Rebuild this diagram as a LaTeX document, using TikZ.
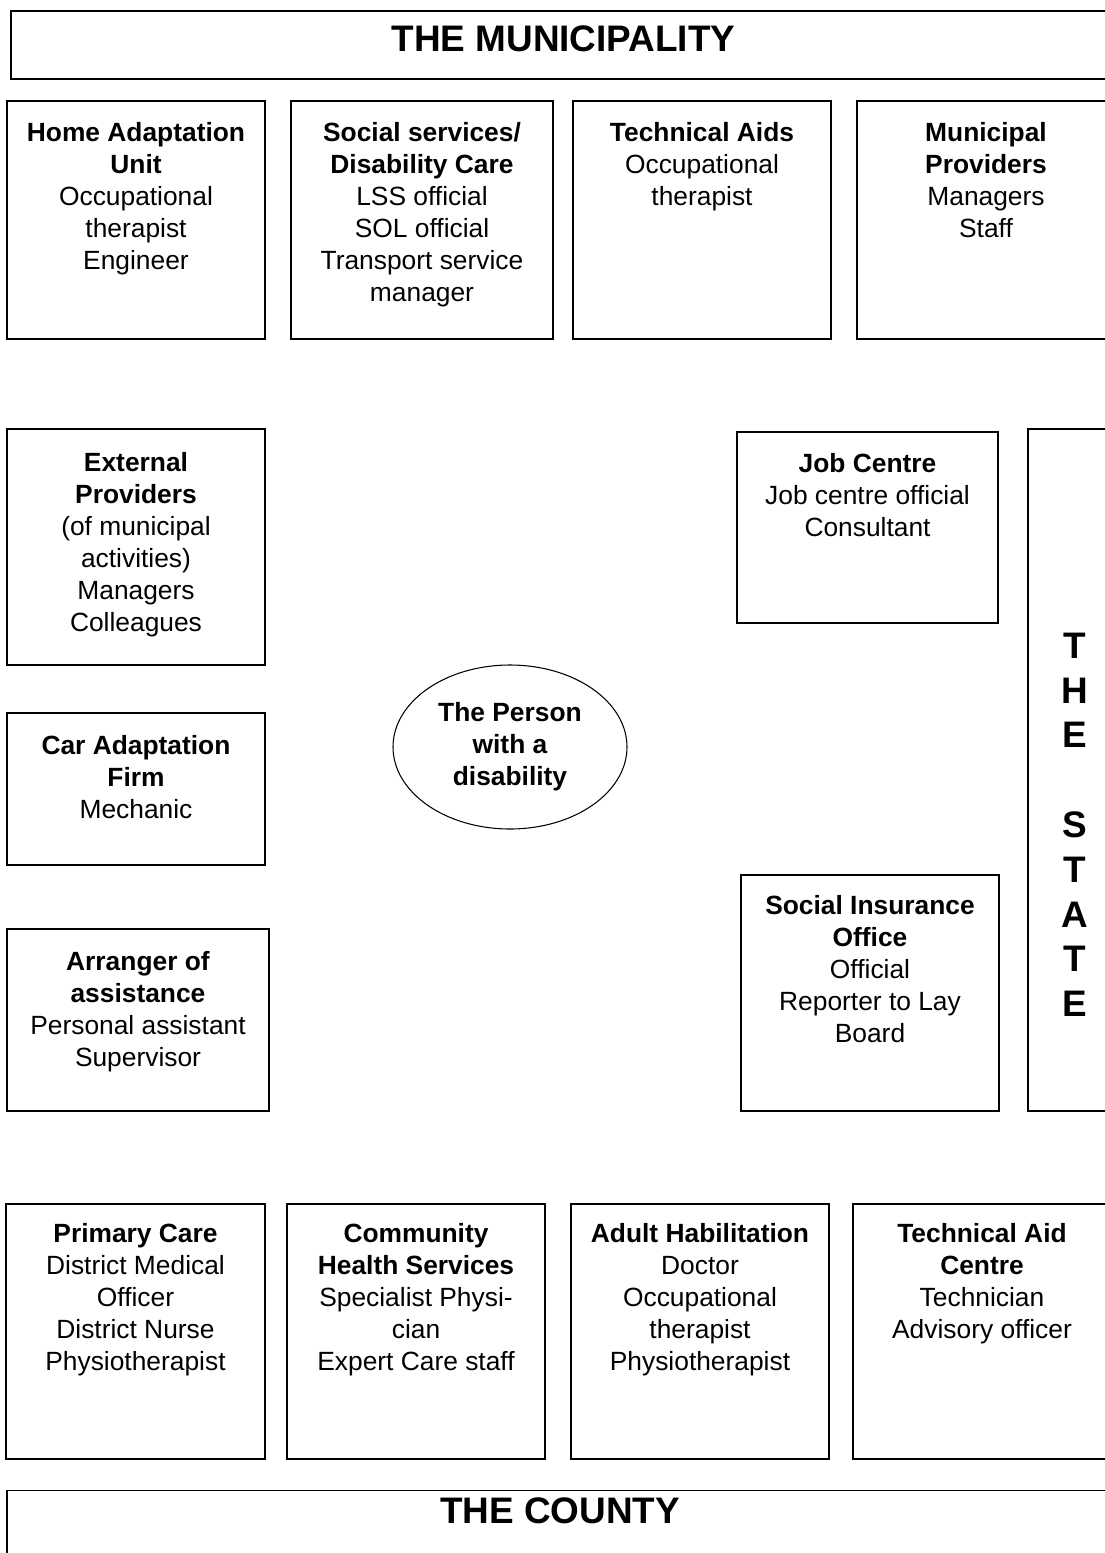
\documentclass[tikz,border=0pt]{standalone}
\usepackage{fontspec}
\setmainfont{Liberation Sans}
\usetikzlibrary{positioning,shapes.geometric}

\begin{document}
\begin{tikzpicture}
  [font=\fontsize{15}{18.2}\selectfont,
   unit/.style={draw,line width=0.6pt,rectangle,inner sep=0pt},
   person/.style={draw,line width=0.6pt,ellipse,inner sep=0pt,minimum width=4.68cm,minimum height=3.28cm,align=center,font=\fontsize{15}{18.2}\selectfont\bfseries},
   staff/.style={anchor=north,inner sep=0pt,align=center},
   level/.style={inner sep=0pt,align=center,font=\fontsize{21}{25.5}\selectfont\bfseries}]

  \useasboundingbox (0,0) rectangle (22.08,-31.06);

  % the municipality
  \node[unit,minimum width=22.10cm,minimum height=1.36cm] (muni) at (11.27,-0.90) {};
  \node[level] (muni_t) at (11.27,-0.78) {THE MUNICIPALITY};

  \node[unit,minimum width=5.16cm,minimum height=4.76cm] (hau) at (2.72,-4.40) {};
  \node[unit,minimum width=5.24cm,minimum height=4.76cm] (soc) at (8.44,-4.40) {};
  \node[unit,minimum width=5.16cm,minimum height=4.76cm] (tai) at (14.04,-4.40) {};
  \node[unit,minimum width=5.16cm,minimum height=4.76cm] (mpr) at (19.72,-4.40) {};
  \node[staff,below=0.43cm of hau.north] (hau_t) {\textbf{Home Adaptation}\\\textbf{Unit}\\Occupational\\therapist\\Engineer};
  \node[staff,below=0.43cm of soc.north] (soc_t) {\textbf{Social services/}\\\textbf{Disability Care}\\LSS official\\SOL official\\Transport service\\manager};
  \node[staff,below=0.43cm of tai.north] (tai_t) {\textbf{Technical Aids}\\Occupational\\therapist};
  \node[staff,below=0.43cm of mpr.north] (mpr_t) {\textbf{Municipal}\\\textbf{Providers}\\Managers\\Staff};

  % left column
  \node[unit,minimum width=5.16cm,minimum height=4.72cm] (ext) at (2.72,-10.94) {};
  \node[unit,minimum width=5.16cm,minimum height=3.04cm] (car) at (2.72,-15.78) {};
  \node[unit,minimum width=5.24cm,minimum height=3.64cm] (arr) at (2.76,-20.40) {};
  \node[staff,below=0.47cm of ext.north] (ext_t) {\textbf{External}\\\textbf{Providers}\\(of municipal\\activities)\\Managers\\Colleagues};
  \node[staff,below=0.45cm of car.north] (car_t) {\textbf{Car Adaptation}\\\textbf{Firm}\\Mechanic};
  \node[staff,below=0.45cm of arr.north] (arr_t) {\textbf{Arranger of}\\\textbf{assistance}\\Personal assistant\\Supervisor};

  \node[person] (pers) at (10.20,-14.94) {The Person\\with a\\disability};

  % the state
  \node[unit,minimum width=5.22cm,minimum height=3.82cm] (job) at (17.35,-10.55) {};
  \node[unit,minimum width=5.16cm,minimum height=4.72cm] (sio) at (17.40,-19.86) {};
  \node[unit,minimum width=1.88cm,minimum height=13.64cm] (state) at (21.50,-15.40) {};
  \node[staff,below=0.43cm of job.north] (job_t) {\textbf{Job Centre}\\Job centre official\\Consultant};
  \node[staff,below=0.41cm of sio.north] (sio_t) {\textbf{Social Insurance}\\\textbf{Office}\\Official\\Reporter to Lay\\Board};
  \node[level,anchor=north,below=4.08cm of state.north] (state_t) {T\\H\\E\\~\\S\\T\\A\\T\\E};

  % the county
  \node[unit,minimum width=5.18cm,minimum height=5.10cm] (pc) at (2.71,-26.63) {};
  \node[unit,minimum width=5.16cm,minimum height=5.10cm] (chs) at (8.32,-26.63) {};
  \node[unit,minimum width=5.16cm,minimum height=5.10cm] (adh) at (14.00,-26.63) {};
  \node[unit,minimum width=5.16cm,minimum height=5.10cm] (tac) at (19.64,-26.63) {};
  \node[staff,below=0.39cm of pc.north] (pc_t) {\textbf{Primary Care}\\District Medical\\Officer\\District Nurse\\Physiotherapist};
  \node[staff,below=0.39cm of chs.north] (chs_t) {\textbf{Community}\\\textbf{Health Services}\\Specialist Physi-\\cian\\Expert Care staff};
  \node[staff,below=0.39cm of adh.north] (adh_t) {\textbf{Adult Habilitation}\\Doctor\\Occupational\\therapist\\Physiotherapist};
  \node[staff,below=0.39cm of tac.north] (tac_t) {\textbf{Technical Aid}\\\textbf{Centre}\\Technician\\Advisory officer};

  \node[unit,minimum width=22.12cm,minimum height=1.58cm] (county) at (11.20,-30.60) {};
  \node[level] (county_t) at (11.20,-30.22) {THE COUNTY};

\end{tikzpicture}
\end{document}
